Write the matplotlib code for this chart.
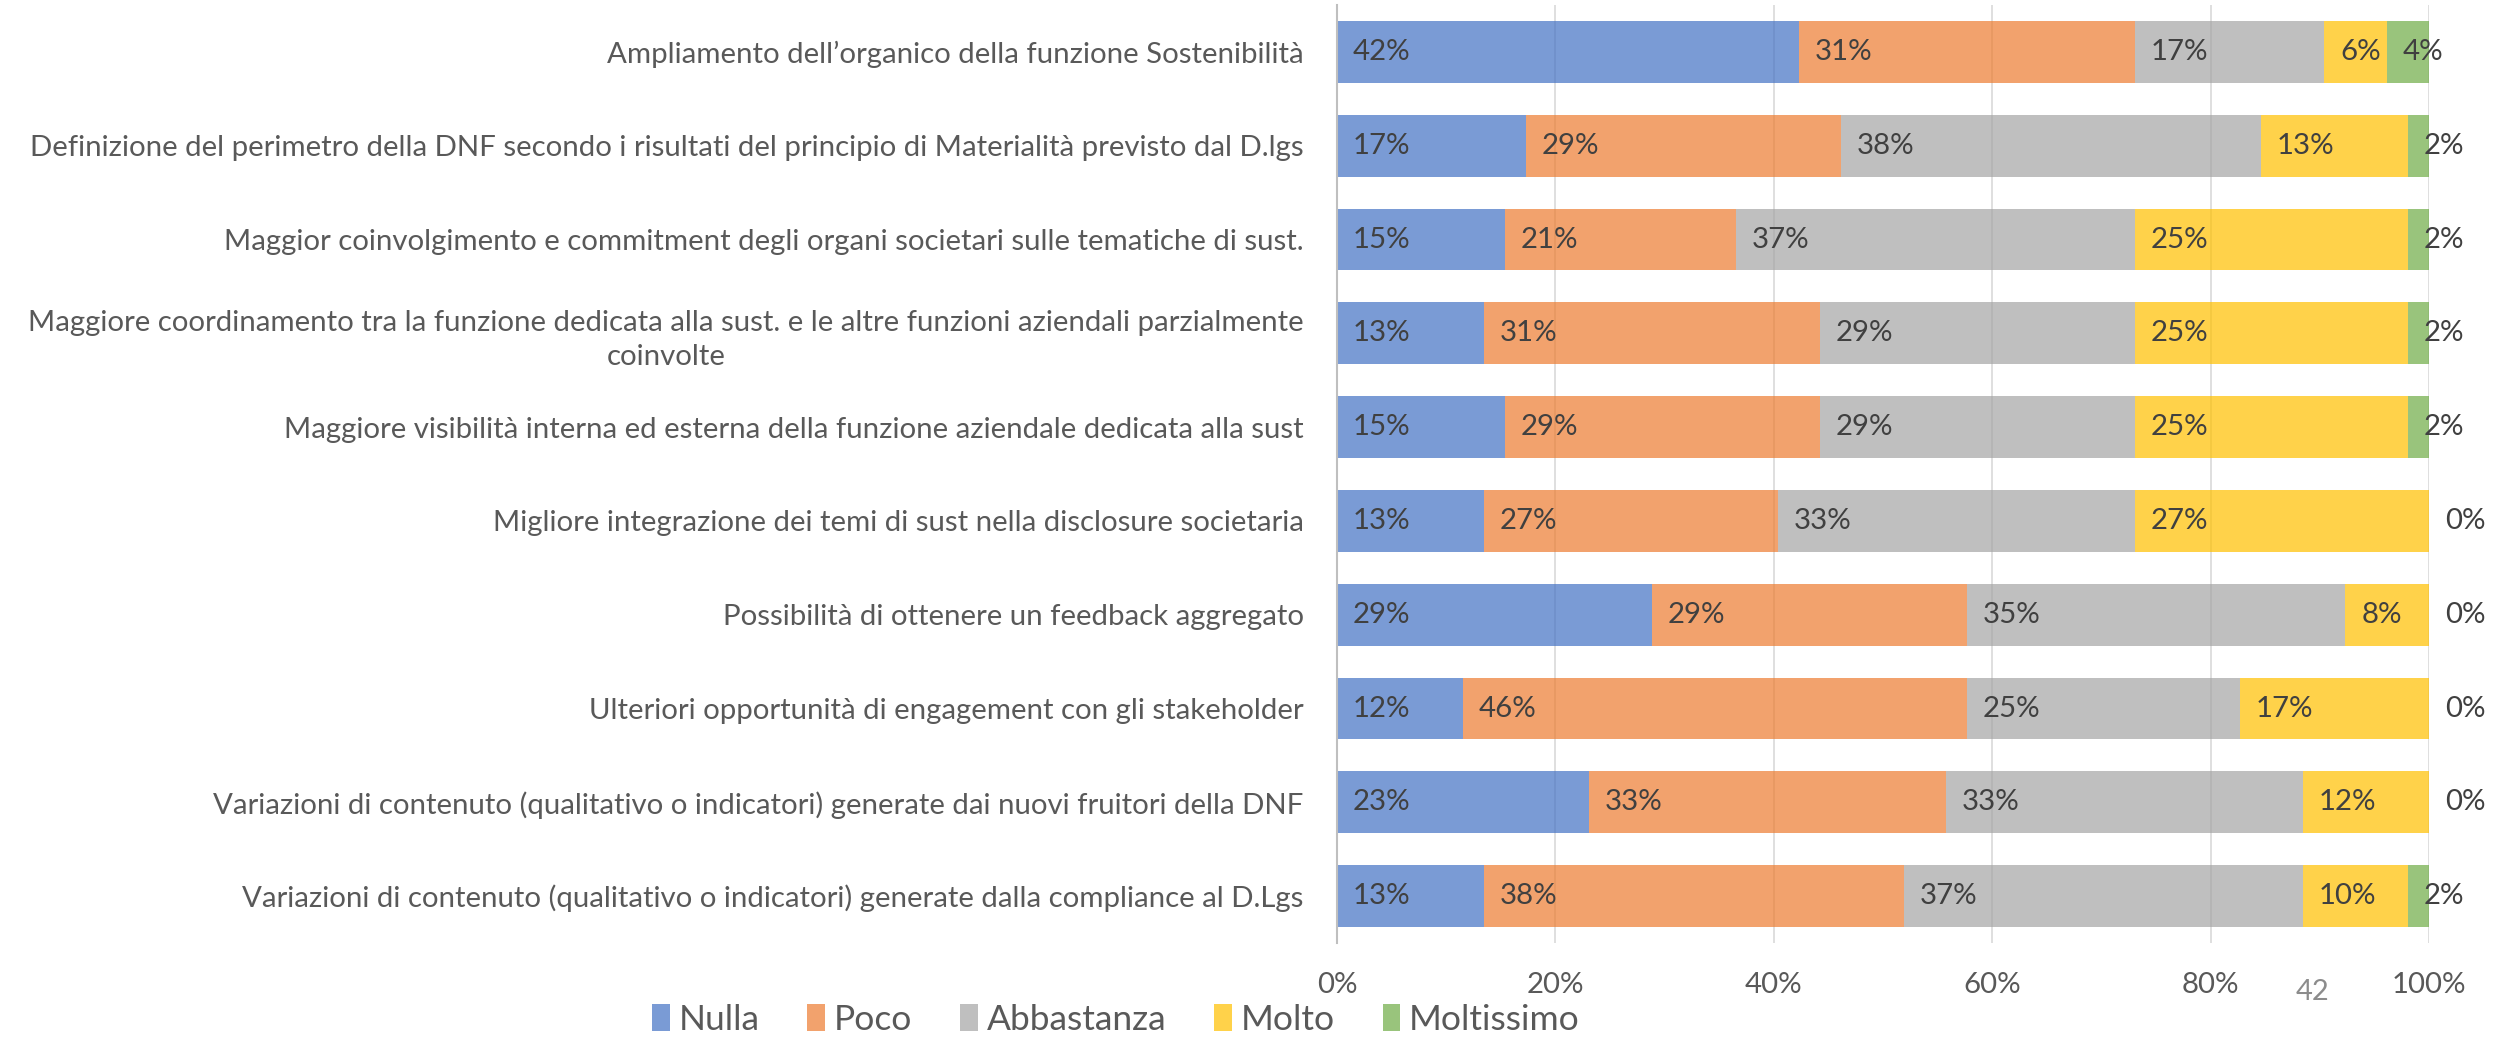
import matplotlib
matplotlib.use("Agg")
import matplotlib.pyplot as plt
import matplotlib.transforms as mtransforms
from matplotlib.patches import Patch

plt.rcParams["font.family"] = ["Lato", "DejaVu Sans"]

# Survey items (top to bottom)
categories = [
    "Ampliamento dell\u2019organico della funzione Sostenibilità",
    "Definizione del perimetro della DNF secondo i risultati del principio di Materialità previsto dal D.lgs",
    "Maggior coinvolgimento e commitment degli organi societari sulle tematiche di sust.",
    "Maggiore coordinamento tra la funzione dedicata alla sust. e le altre funzioni aziendali parzialmente\ncoinvolte",
    "Maggiore visibilità interna ed esterna della funzione aziendale dedicata alla sust",
    "Migliore integrazione dei temi di sust nella disclosure societaria",
    "Possibilità di ottenere un feedback aggregato",
    "Ulteriori opportunità di engagement con gli stakeholder",
    "Variazioni di contenuto (qualitativo o indicatori) generate dai nuovi fruitori della DNF",
    "Variazioni di contenuto (qualitativo o indicatori) generate dalla compliance al D.Lgs",
]

levels = ["Nulla", "Poco", "Abbastanza", "Molto", "Moltissimo"]

# Share of respondents (%) per answer level
nulla      = [42.31, 17.31, 15.38, 13.46, 15.38, 13.46, 28.85, 11.54, 23.08, 13.46]
poco       = [30.77, 28.85, 21.15, 30.77, 28.85, 26.92, 28.85, 46.15, 32.69, 38.46]
abbastanza = [17.31, 38.46, 36.54, 28.85, 28.85, 32.69, 34.62, 25.00, 32.69, 36.54]
molto      = [5.77, 13.46, 25.00, 25.00, 25.00, 26.92, 7.69, 17.31, 11.54, 9.62]
moltissimo = [3.85, 1.92, 1.92, 1.92, 1.92, 0.00, 0.00, 0.00, 0.00, 1.92]

x_ticks = [0, 20, 40, 60, 80, 100]
x_tick_labels = ["0%", "20%", "40%", "60%", "80%", "100%"]

series = [nulla, poco, abbastanza, molto, moltissimo]
colors = ["#4472C4", "#ED7D31", "#A5A5A5", "#FFC000", "#70AD47"]
bar_alpha = 0.71

TEXT_SIZE = 21.2

W, H, DPI = 2494, 1040, 100
fig = plt.figure(figsize=(W / DPI, H / DPI), dpi=DPI)
ax = fig.add_axes([1337 / W, 1 - 943 / H, (2429 - 1337) / W, (943 - 5) / H])

y = list(range(len(categories)))
left = [0.0] * len(categories)
label_offset = mtransforms.offset_copy(ax.transData, fig=fig, x=16, y=0, units="dots")

for vals, col in zip(series, colors):
    ax.barh(y, vals, left=left, height=0.66, color=col, alpha=bar_alpha,
            linewidth=0, zorder=2)
    for yi, (l, v) in enumerate(zip(left, vals)):
        ax.text(l, yi, f"{v:.0f}%", transform=label_offset, ha="left",
                va="center", fontsize=TEXT_SIZE, color="#404040", zorder=4)
    left = [l + v for l, v in zip(left, vals)]

ax.set_xlim(0, 100)
ax.set_ylim(len(categories) - 0.5, -0.5)

ax.set_xticks(x_ticks)
ax.set_xticklabels(x_tick_labels, fontsize=TEXT_SIZE, color="#595959")
ax.set_yticks(y)
ax.set_yticklabels(categories, fontsize=TEXT_SIZE, color="#595959")
for lab in ax.get_yticklabels():
    lab.set_multialignment("center")
    lab.set_linespacing(1.4)
ax.tick_params(axis="x", length=0, pad=21)
ax.tick_params(axis="y", length=0, pad=24)

ax.grid(axis="x", color="#D9D9D9", linewidth=1.2, zorder=0)
ax.set_axisbelow(True)
for side in ["top", "right", "bottom"]:
    ax.spines[side].set_visible(False)
ax.spines["left"].set_color("#BFBFBF")
ax.spines["left"].set_linewidth(1.5)

handles = [Patch(facecolor=c, alpha=bar_alpha, edgecolor="none") for c in colors]
fig.legend(handles, levels, loc="center", bbox_to_anchor=(1116 / W, 1 - 1020 / H),
           ncol=5, frameon=False, fontsize=25.5, labelcolor="#595959",
           handlelength=0.5, handleheight=0.8, handletextpad=0.25,
           columnspacing=1.35, borderpad=0)

# Page number
fig.text(2313 / W, 1 - 992 / H, "42", ha="center", va="center",
         fontsize=21, color="#8C8C8C")

fig.savefig("out.png", dpi=DPI)
